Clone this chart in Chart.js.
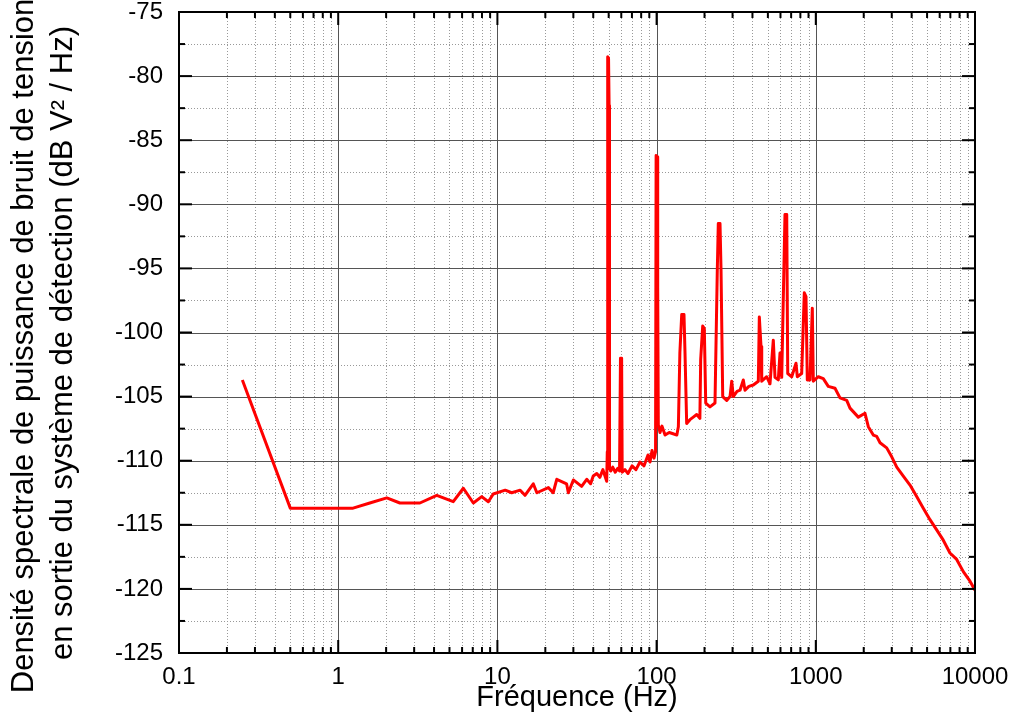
<!DOCTYPE html>
<html>
<head>
<meta charset="utf-8">
<script src="https://cdn.jsdelivr.net/npm/chart.js@4/dist/chart.umd.min.js"></script>
<style>
  body { margin: 0; background: #fff; }
</style>
</head>
<body>
<canvas id="grafico" width="1016" height="720"></canvas>
<script>
// fréquences (Hz) et densité spectrale (dB V²/Hz)
const frequences = [
  0.25, 0.5, 1.24, 1.58, 2.02, 2.44, 3.26, 4.16, 5.28, 6.11, 7.06, 7.97, 8.77, 9.42,
  11.2, 12.3, 13.9, 14.9, 16.8, 17.7, 20.9, 22.4, 23.6, 27.2, 27.9, 30.0, 33.8, 36.4,
  38.5, 40.0, 42.1, 44.0, 46.0, 48.6,
  49.0, 49.3, 49.9, 50.3, 50.6, 51.5, 53, 55, 57, 58.5, 59.3, 60.3, 60.8,
  61.5, 63.3, 66.1, 70.1, 74.2, 78.6, 83.4, 88.3, 90.9, 93.6, 96.3, 98.5,
  99.3, 100.6, 101.6, 102.5, 105, 108, 113, 120, 127, 134, 137,
  140, 143.8, 148.6, 150.8, 154.5, 162, 170, 178.6, 187, 189.2, 194.8, 199.4, 203.5,
  216.5, 232.7, 240.6, 244.1, 250.2, 253.9, 260.2, 275.6, 289.2, 296.4, 303.3,
  320, 334.2, 350.5, 359.2, 380, 404.9, 435.5, 441.8, 452.8, 457.4, 491.5, 515.5,
  540.8, 554.3, 581.4, 595.8, 610.7, 640.4, 656.7, 666.3, 705.9, 750.9, 765.2,
  815.4, 846.8, 867.8, 884.3, 919.4, 950.7, 964.5, 1036.8, 1114.5, 1198, 1320,
  1419, 1564, 1640, 1849, 2037, 2137, 2297, 2413, 2532, 2788, 2999, 3224, 3545,
  3906, 4302, 4734, 5215, 5745, 6321, 6964, 7674, 8444, 9303, 10000
];
const densite = [
  -103.7, -113.7, -113.7, -113.3, -112.9, -113.3, -113.3, -112.7, -113.2, -112.15, -113.3, -112.8, -113.2, -112.6,
  -112.3, -112.5, -112.3, -112.7, -111.8, -112.5, -112.1, -112.5, -111.45, -111.8, -112.5, -111.5, -112.0, -111.45,
  -111.8, -111.2, -111.0, -111.3, -110.7, -111.6,
  -109.3, -78.5, -78.6, -82.3, -110.6, -110.8, -110.5, -110.9, -110.6, -110.8, -102.0, -102.0, -110.9,
  -110.9, -110.7, -111.0, -110.4, -110.7, -110.1, -110.4, -109.55, -110.1, -109.2, -109.8, -109.3,
  -86.2, -86.3, -96.4, -107.2, -107.8, -107.3, -108.0, -107.8, -107.9, -108.0, -107.35,
  -101.6, -98.6, -98.6, -101.6, -107.1, -106.8, -106.6, -106.4, -106.7, -102.1, -99.5, -99.7, -105.5,
  -105.8, -105.5, -95.1, -91.5, -91.5, -95.1, -105.0, -105.3, -105.0, -103.8, -105.0,
  -104.6, -104.5, -103.7, -104.5, -104.2, -104.1, -103.8, -98.8, -101.1, -103.8, -103.45, -104.0,
  -100.6, -103.5, -103.7, -101.6, -103.5, -90.8, -90.8, -103.2, -103.45, -102.4, -103.45,
  -103.2, -96.9, -97.2, -103.7, -103.7, -98.1, -103.8, -103.45, -103.6, -104.2, -104.35,
  -105.1, -105.3, -105.9, -106.6, -106.3, -107.35, -108.0, -108.1, -108.6, -109.0, -109.7, -110.5, -111.2,
  -111.9, -112.8, -113.7, -114.6, -115.4, -116.2, -117.2, -117.7, -118.65, -119.4, -120.1
];

const xTicks = [0.1, 1, 10, 100, 1000, 10000];
const xTickLabels = ['0.1', '1', '10', '100', '1000', '10000'];
const yMin = -125, yMax = -75, yStep = 5;

const titreX = 'Fréquence (Hz)';
const titreY = [
  'Densité spectrale de puissance de bruit de tension',
  'en sortie du système de détection (dB V² / Hz)'
];

Chart.defaults.font.family = '"Liberation Sans", Arial, sans-serif';
Chart.defaults.color = '#000';

function trait(ctx, x1, y1, x2, y2) {
  ctx.beginPath();
  ctx.moveTo(x1, y1);
  ctx.lineTo(x2, y2);
  ctx.stroke();
}

// grille (majeure pleine, mineure pointillée), cadre, graduations intérieures, titre Y
const cadre = {
  id: 'cadre',
  beforeDatasetsDraw(chart) {
    const { ctx, chartArea: a, scales: { x, y } } = chart;
    ctx.save();
    ctx.lineWidth = 1;
    ctx.strokeStyle = '#999';
    ctx.setLineDash([1, 2]);
    for (let i = 0; i < xTicks.length - 1; i++) {
      for (let k = 2; k <= 9; k++) {
        const px = Math.round(x.getPixelForValue(xTicks[i] * k)) + 0.5;
        trait(ctx, px, a.top, px, a.bottom);
      }
    }
    for (let v = yMin + yStep / 2; v < yMax; v += yStep) {
      const py = Math.round(y.getPixelForValue(v)) + 0.5;
      trait(ctx, a.left, py, a.right, py);
    }
    ctx.setLineDash([]);
    ctx.strokeStyle = '#555';
    xTicks.forEach(v => {
      const px = Math.round(x.getPixelForValue(v)) + 0.5;
      trait(ctx, px, a.top, px, a.bottom);
    });
    for (let v = yMin; v <= yMax; v += yStep) {
      const py = Math.round(y.getPixelForValue(v)) + 0.5;
      trait(ctx, a.left, py, a.right, py);
    }
    ctx.restore();
  },
  afterDraw(chart) {
    const { ctx, chartArea: a, scales: { x, y } } = chart;
    ctx.save();
    ctx.strokeStyle = '#000';
    ctx.lineWidth = 2;
    ctx.strokeRect(a.left, a.top, a.right - a.left, a.bottom - a.top);
    // graduations X (haut et bas)
    for (let i = 0; i < xTicks.length; i++) {
      const px = x.getPixelForValue(xTicks[i]);
      trait(ctx, px, a.bottom, px, a.bottom - 13);
      trait(ctx, px, a.top, px, a.top + 13);
      if (i < xTicks.length - 1) {
        for (let k = 2; k <= 9; k++) {
          const pm = x.getPixelForValue(xTicks[i] * k);
          trait(ctx, pm, a.bottom, pm, a.bottom - 6);
          trait(ctx, pm, a.top, pm, a.top + 6);
        }
      }
    }
    // graduations Y (gauche et droite)
    for (let v = yMin; v <= yMax; v += yStep / 2) {
      const py = y.getPixelForValue(v);
      const len = (v - yMin) % yStep === 0 ? 13 : 6;
      trait(ctx, a.left, py, a.left + len, py);
      trait(ctx, a.right, py, a.right - len, py);
    }
    // titre de l'axe Y sur deux lignes
    ctx.fillStyle = '#000';
    ctx.font = '31px "Liberation Sans", Arial, sans-serif';
    ctx.textAlign = 'center';
    ctx.textBaseline = 'alphabetic';
    const lignes = [[33, 346], [72, 343]];
    titreY.forEach((t, i) => {
      ctx.save();
      ctx.translate(lignes[i][0], lignes[i][1]);
      ctx.rotate(-Math.PI / 2);
      ctx.fillText(t, 0, 0);
      ctx.restore();
    });
    ctx.restore();
  }
};

const grafico = document.getElementById('grafico').getContext('2d');

const chart = new Chart(grafico, {
  type: 'line',
  data: {
    datasets: [
      {
        label: 'DSP',
        data: frequences.map((f, i) => ({ x: f, y: densite[i] })),
        borderColor: '#ff0000',
        borderWidth: 3,
        borderJoinStyle: 'round',
        pointRadius: 0,
        tension: 0,
        fill: false
      }
    ]
  },
  options: {
    responsive: false,
    animation: false,
    layout: { padding: { top: 12, right: 41, left: 0, bottom: 0 } },
    plugins: {
      legend: { display: false },
      tooltip: { enabled: false }
    },
    scales: {
      x: {
        type: 'logarithmic',
        min: 0.1,
        max: 10000,
        grid: { display: false, drawTicks: false },
        border: { display: false },
        afterBuildTicks: s => { s.ticks = xTicks.map(v => ({ value: v })); },
        afterFit: s => { s.height = 67; s.paddingLeft = 0; s.paddingRight = 0; },
        ticks: {
          autoSkip: false,
          maxRotation: 0,
          padding: 10,
          font: { size: 24 },
          callback: v => {
            const i = xTicks.indexOf(v);
            return i >= 0 ? xTickLabels[i] : '';
          }
        },
        title: {
          display: true,
          text: titreX,
          font: { size: 29 },
          padding: { top: 0, bottom: 5 }
        }
      },
      y: {
        min: yMin,
        max: yMax,
        grid: { display: false, drawTicks: false },
        border: { display: false },
        afterFit: s => { s.width = 179; s.paddingTop = 0; s.paddingBottom = 0; },
        ticks: {
          stepSize: yStep,
          padding: 16,
          font: { size: 24, lineHeight: 1 }
        }
      }
    }
  },
  plugins: [cadre]
});
</script>
</body>
</html>
